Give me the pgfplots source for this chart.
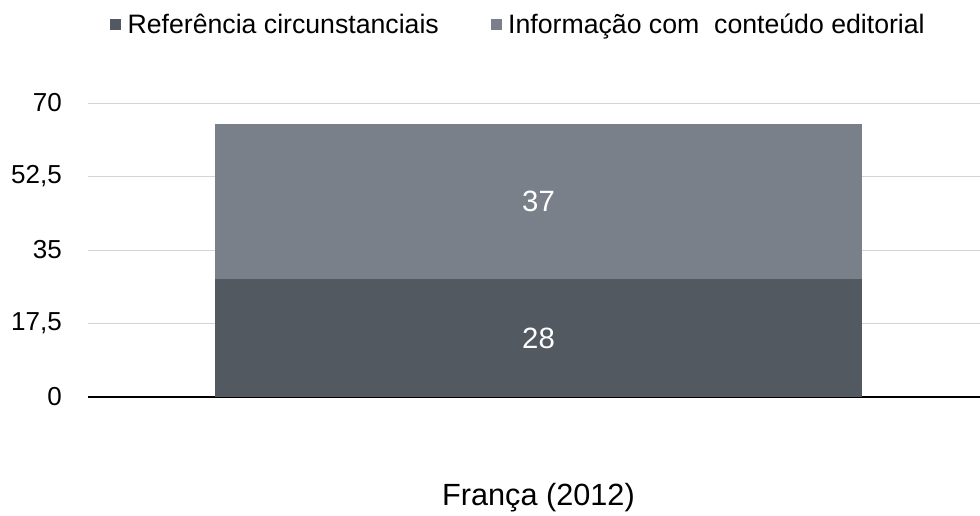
\documentclass[border=0pt]{standalone}
\usepackage{fontspec}
\setmainfont{Liberation Sans}
\usepackage{pgfplots}
\pgfplotsset{compat=1.18}

\definecolor{darkbar}{HTML}{525961}
\definecolor{lightbar}{HTML}{7A808A}
\definecolor{gridgray}{HTML}{D4D4D4}

\begin{document}
\begin{tikzpicture}
\useasboundingbox (-66pt,-88.5pt) rectangle (669pt,297.75pt);
\begin{axis}[
    at={(0,0)}, anchor=south west,
    scale only axis,
    width=669pt, height=220.5pt,
    xmin=-1, xmax=0.98,
    ymin=0, ymax=70,
    ybar stacked,
    bar width=1.436,
    axis x line*=bottom, axis y line*=left,
    x axis line style={black, line width=1.5pt},
    y axis line style={draw=none},
    xtick=\empty,
    ytick={0,17.5,35,52.5,70},
    major tick length=0pt,
    ymajorgrids, grid style={gridgray, line width=0.75pt},
    yticklabel style={anchor=east, inner sep=0pt, xshift=-19.5pt,
        font=\fontsize{19.5}{23}\selectfont,
        /pgf/number format/.cd, use comma, fixed, assume math mode=true},
    xlabel={França (2012)},
    xlabel style={at={(axis description cs:0.505,0)}, anchor=center,
        yshift=-75.8pt, font=\fontsize{23}{27}\selectfont},
    point meta=rawy,
    nodes near coords={\pgfmathprintnumber[assume math mode=true]{\pgfplotspointmeta}},
    every node near coord/.style={anchor=center, text=white,
        font=\fontsize{22}{26}\selectfont},
    legend style={at={(0.4815,1.267)}, anchor=center, draw=none,
        legend columns=2, font=\fontsize{20}{24}\selectfont,
        nodes={inner sep=0pt},
        /tikz/every odd column/.append style={column sep=5pt},
        /tikz/every even column/.append style={column sep=39pt}},
    legend image code/.code={\fill[#1] (0pt,-4pt) rectangle (8pt,4pt);},
]

% Referência circunstanciais
\addplot[fill=darkbar, draw=none] coordinates {(0,28)};

% Informação com conteúdo editorial
\addplot[fill=lightbar, draw=none] coordinates {(0,37)};

\legend{Referência circunstanciais, Informação com\ \ conteúdo editorial}

\end{axis}
\end{tikzpicture}
\end{document}
